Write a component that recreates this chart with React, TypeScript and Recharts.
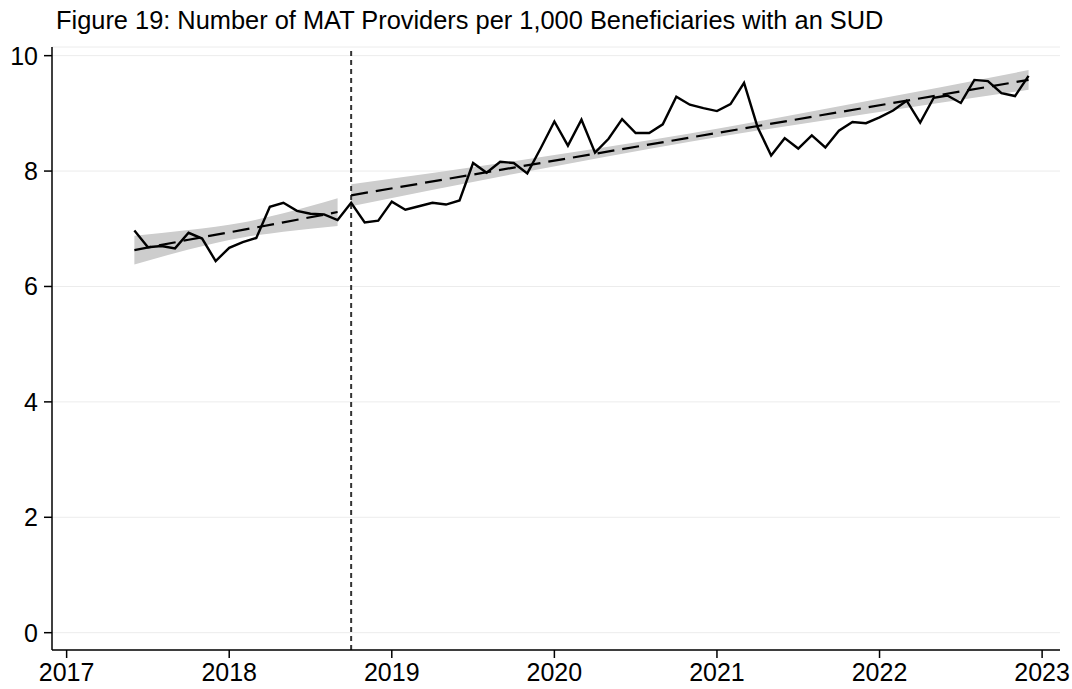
import {
  ComposedChart,
  Line,
  Area,
  XAxis,
  YAxis,
  CartesianGrid,
  ReferenceLine
} from 'recharts';

// monthly values, Jun 2017 – Dec 2022
const providers2017 = [6.97, 6.68, 6.70, 6.66, 6.93, 6.83, 6.44]; // Jun–Dec
const providers2018 = [6.67, 6.77, 6.84, 7.38, 7.45, 7.31, 7.26, 7.25, 7.15, 7.45, 7.11, 7.14];
const providers2019 = [7.47, 7.33, 7.39, 7.45, 7.42, 7.49, 8.14, 7.97, 8.16, 8.14, 7.96, 8.40];
const providers2020 = [8.86, 8.44, 8.89, 8.32, 8.56, 8.90, 8.66, 8.66, 8.81, 9.29, 9.15, 9.09];
const providers2021 = [9.04, 9.16, 9.53, 8.76, 8.27, 8.57, 8.39, 8.62, 8.41, 8.70, 8.85, 8.83];
const providers2022 = [8.93, 9.05, 9.22, 8.84, 9.27, 9.31, 9.18, 9.58, 9.56, 9.35, 9.30, 9.65];

const yearSeries: [number, number, number[]][] = [
  [2017, 6, providers2017],
  [2018, 1, providers2018],
  [2019, 1, providers2019],
  [2020, 1, providers2020],
  [2021, 1, providers2021],
  [2022, 1, providers2022]
];

// linear fit + confidence band, before the break
const preFitMonths = ['2017-06', '2017-10', '2018-02', '2018-05', '2018-09'];
const preFit = [6.63, 6.81, 6.98, 7.11, 7.29];
const preLow = [6.38, 6.64, 6.85, 6.95, 7.05];
const preHigh = [6.88, 6.98, 7.11, 7.27, 7.53];

// after the break
const postFitMonths = ['2018-10', '2019-10', '2020-11', '2021-12', '2022-12'];
const postFit = [7.58, 8.06, 8.58, 9.10, 9.58];
const postLow = [7.39, 7.95, 8.51, 8.99, 9.41];
const postHigh = [7.77, 8.17, 8.65, 9.21, 9.75];

const breakMonth = '2018-10';
const xTicks = [2017, 2018, 2019, 2020, 2021, 2022, 2023];
const yTicks = [0, 2, 4, 6, 8, 10];

const toX = (m: string) => {
  const [y, mo] = m.split('-').map(Number);
  return y + (mo - 1) / 12;
};

const lineData = yearSeries.flatMap(([year, start, vals]) =>
  vals.map((v, i) => ({ x: year + (start - 1 + i) / 12, value: v }))
);

const buildFit = (months: string[], fit: number[], low: number[], high: number[]) =>
  months.map((m, i) => ({ x: toX(m), fit: fit[i], band: [low[i], high[i]] }));

const preData = buildFit(preFitMonths, preFit, preLow, preHigh);
const postData = buildFit(postFitMonths, postFit, postLow, postHigh);

const font = '"Liberation Sans", Arial, Helvetica, sans-serif';

export default function App() {
  return (
    <div style={{ position: 'absolute', left: 0, top: 0, width: 1072, height: 689, background: '#fff' }}>
      <div
        style={{
          position: 'absolute',
          left: 56,
          top: 6,
          fontFamily: font,
          fontSize: 25.4,
          color: '#000',
          whiteSpace: 'nowrap'
        }}
      >
        Figure 19: Number of MAT Providers per 1,000 Beneficiaries with an SUD
      </div>
      <ComposedChart
        width={1072}
        height={689}
        margin={{ top: 47, right: 12, bottom: 0, left: 0 }}
        style={{ fontFamily: font }}
      >
        <CartesianGrid horizontal vertical={false} stroke="#ececec" strokeWidth={1} />
        <XAxis
          type="number"
          dataKey="x"
          domain={[2016.91, 2023.11]}
          ticks={xTicks}
          allowDataOverflow
          height={39}
          tickSize={8}
          tickMargin={5}
          tickFormatter={(v: number) => String(Math.round(v))}
          stroke="#000"
          tick={{ fontSize: 25, fill: '#000' }}
          axisLine={{ stroke: '#000', strokeWidth: 1.5 }}
          tickLine={{ stroke: '#000', strokeWidth: 1.5 }}
        />
        <YAxis
          type="number"
          domain={[-0.3, 10.15]}
          ticks={yTicks}
          allowDataOverflow
          width={52}
          tickSize={8}
          tickMargin={6}
          stroke="#000"
          tick={{ fontSize: 25, fill: '#000' }}
          axisLine={{ stroke: '#000', strokeWidth: 1.5 }}
          tickLine={{ stroke: '#000', strokeWidth: 1.5 }}
        />
        <Area
          data={preData}
          dataKey="band"
          type="monotone"
          stroke="none"
          fill="#cdcdcd"
          fillOpacity={1}
          isAnimationActive={false}
        />
        <Area
          data={postData}
          dataKey="band"
          type="monotone"
          stroke="none"
          fill="#cdcdcd"
          fillOpacity={1}
          isAnimationActive={false}
        />
        <ReferenceLine x={toX(breakMonth)} stroke="#333" strokeWidth={2} strokeDasharray="5 4" />
        <Line
          data={lineData}
          dataKey="value"
          type="linear"
          stroke="#000"
          strokeWidth={2.4}
          dot={false}
          isAnimationActive={false}
        />
        <Line
          data={preData}
          dataKey="fit"
          type="linear"
          stroke="#000"
          strokeWidth={2.2}
          strokeDasharray="17 8"
          dot={false}
          isAnimationActive={false}
        />
        <Line
          data={postData}
          dataKey="fit"
          type="linear"
          stroke="#000"
          strokeWidth={2.2}
          strokeDasharray="17 8"
          dot={false}
          isAnimationActive={false}
        />
      </ComposedChart>
    </div>
  );
}
